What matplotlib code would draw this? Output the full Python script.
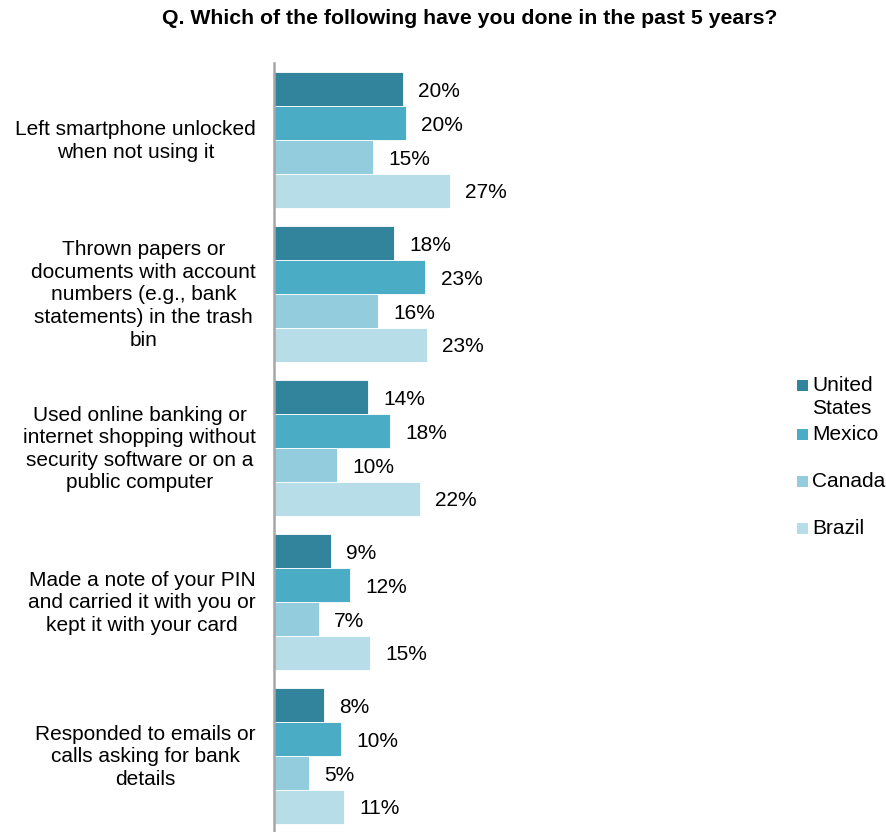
import matplotlib
matplotlib.use("Agg")
import matplotlib.pyplot as plt
from matplotlib.patches import Rectangle
import matplotlib.transforms as mtransforms
import numpy as np

plt.rcParams['font.family'] = ['Liberation Sans', 'DejaVu Sans']

title = "Q. Which of the following have you done in the past 5 years?"

categories = [
    "Left smartphone unlocked\nwhen not using it",
    "Thrown papers or\ndocuments with account\nnumbers (e.g., bank\nstatements) in the trash\nbin",
    "Used online banking or\ninternet shopping without\nsecurity software or on a\npublic computer",
    "Made a note of your PIN\nand carried it with you or\nkept it with your card",
    "Responded to emails or\ncalls asking for bank\ndetails",
]

countries = ["United\nStates", "Mexico", "Canada", "Brazil"]

united_states = [19.8, 18.4, 14.4, 8.7, 7.7]
mexico = [20.2, 23.2, 17.8, 11.7, 10.3]
canada = [15.2, 16.0, 9.7, 6.9, 5.4]
brazil = [27.0, 23.4, 22.4, 14.7, 10.7]

series = [united_states, mexico, canada, brazil]
colors = ["#31849B", "#4BACC6", "#93CDDD", "#B7DEE8"]

W, H = 887, 832
fig = plt.figure(figsize=(W / 100, H / 100), dpi=100)

ax_left, ax_right, ax_top, ax_bottom = 274, 760, 63, 833
ax = fig.add_axes([ax_left / W, 1 - ax_bottom / H,
                   (ax_right - ax_left) / W, (ax_bottom - ax_top) / H])

bar_h = 0.22
y = np.arange(len(categories))
fs = 15
ls = 1.24

for j, (vals, col) in enumerate(zip(series, colors)):
    pos = y + (j - 1.5) * bar_h
    ax.barh(pos, vals, height=bar_h, color=col,
            edgecolor="white", linewidth=0.6)
    for p, v in zip(pos, vals):
        ax.annotate(f"{round(v)}%", xy=(v, p), xytext=(11, -1.5),
                    textcoords="offset points", ha="left", va="center",
                    fontsize=fs, color="black")

px_per_unit = 176 / 27.0
ax.set_xlim(0, (ax_right - ax_left) / px_per_unit)
ax.set_ylim(len(categories) - 0.5, -0.5)

for s in ["top", "right", "bottom"]:
    ax.spines[s].set_visible(False)
ax.spines["left"].set_color("#A6A6A6")
ax.spines["left"].set_linewidth(1.8)
ax.set_xticks([])
ax.set_yticks([])

# category labels: right-aligned block, lines centred
lab_tr = mtransforms.offset_copy(ax.get_yaxis_transform(), fig=fig,
                                 x=-18 * 0.72, y=-1 * 0.72, units="points")
for yi, cat in zip(y, categories):
    ax.text(0, yi, cat, transform=lab_tr, ha="right", va="center",
            multialignment="center", fontsize=fs, linespacing=ls,
            color="black")

fig.text(470 / W, 1 - 19 / H, title, ha="center", va="center",
         fontsize=15.3, fontweight="bold", color="black")

# legend
leg_rows = [384, 433, 480, 527]
for name, col, yr in zip(countries, colors, leg_rows):
    fig.patches.append(Rectangle((797 / W, 1 - (yr + 7) / H), 11 / W, 11 / H,
                                 transform=fig.transFigure, facecolor=col,
                                 edgecolor="none"))
    fig.text(812 / W, 1 - (yr - 8) / H, name, ha="left", va="top",
             fontsize=fs, linespacing=ls, color="black")

fig.savefig("out.png", dpi=100, facecolor="white")
